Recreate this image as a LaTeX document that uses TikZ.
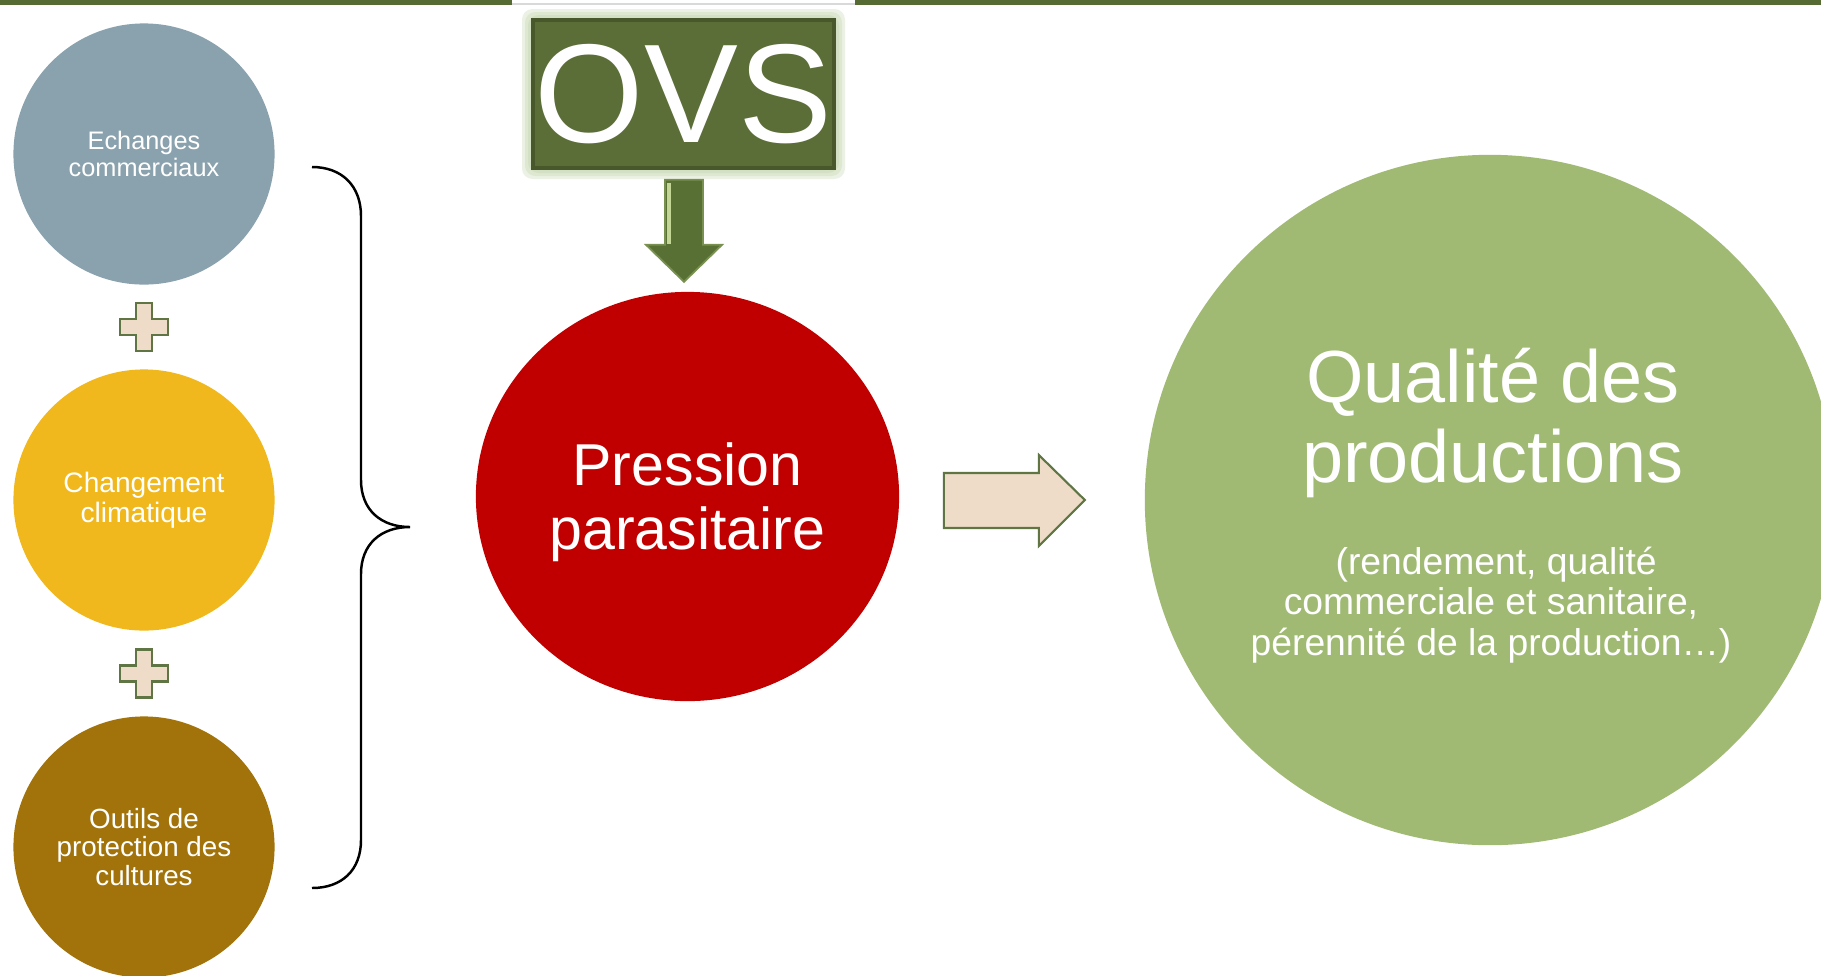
\documentclass[tikz,border=0pt]{standalone}
\usepackage{fontspec}
\setmainfont{Liberation Sans}
\usetikzlibrary{calc, shapes.geometric}

\definecolor{barGreen}{RGB}{86,107,51}
\definecolor{ovsGreen}{RGB}{91,110,56}
\definecolor{ovsDark}{RGB}{72,88,42}
\definecolor{glowGreen}{RGB}{190,208,164}
\definecolor{arrowGreen}{RGB}{88,112,52}
\definecolor{arrowLight}{RGB}{120,145,80}
\definecolor{arrowHi}{RGB}{196,214,150}
\definecolor{echBlue}{RGB}{138,162,174}
\definecolor{climYellow}{RGB}{240,184,28}
\definecolor{outBrown}{RGB}{161,115,10}
\definecolor{ppRed}{RGB}{192,0,0}
\definecolor{qualGreen}{RGB}{160,186,116}
\definecolor{plusFill}{RGB}{239,220,200}
\definecolor{plusLine}{RGB}{95,117,68}

\tikzset{
  bubble/.style={circle, inner sep=0pt, minimum size=2.61cm, text=white, align=center},
  plusbox/.style={fill=plusFill, draw=plusLine, line width=0.6pt},
  downarrow/.style={fill=arrowGreen, draw=arrowLight, line width=0.5pt},
  rightarrow/.style={fill=plusFill, draw=plusLine, line width=0.6pt},
}

\begin{document}
\begin{tikzpicture}[x=0.01cm, y=-0.01cm]
\useasboundingbox (0,0) rectangle (1821,975);
\clip (0,0) rectangle (1821,975);
					%%
\fill[barGreen] (0,0) rectangle (512,5);
\fill[barGreen] (855,0) rectangle (1821,5);
\draw[black!15, line width=0.4pt] (512,4) -- (855,4);

\node[bubble, fill=echBlue, font=\fontsize{7.2}{7.9}\selectfont] (ech) at (144,154) {Echanges\\commerciaux};
\node[bubble, fill=climYellow, font=\fontsize{8}{8.6}\selectfont] (clim) at (144,500) {Changement\\climatique};
\node[bubble, fill=outBrown, font=\fontsize{7.9}{8.1}\selectfont] (outil) at (144,847) {Outils de\\protection des\\cultures};

\coordinate (p1) at ($(ech)!.5!(clim)$);
\coordinate (p2) at ($(clim)!.5!(outil)$);

\foreach \i in {p1, p2}
\draw[plusbox, shift={(\i)}] (-8,-24) -- (8,-24) -- (8,-8) -- (24,-8) -- (24,8) -- (8,8)
  -- (8,24) -- (-8,24) -- (-8,8) -- (-24,8) -- (-24,-8) -- (-8,-8) -- cycle;

\coordinate (b1) at (312,167);
\coordinate (b2) at (410,527);
\coordinate (b3) at (312,888);
\draw[line width=0.7pt] (b1) .. controls (342,167) and (361,186) .. (361,216) -- (361,480)
  .. controls (361,510) and (381,527) .. (b2)
  .. controls (381,527) and (361,544) .. (361,574) -- (361,840)
  .. controls (361,870) and (342,888) .. (b3);

%\foreach \g in {14, 10} glow
\foreach \g in {11, 8, 5, 2}
\fill[glowGreen, opacity=0.3, rounded corners=3pt] (533-\g,20-\g) rectangle (834+\g,168+\g);

\node[fill=ovsGreen, draw=ovsDark, line width=1pt, minimum width=3.01cm, minimum height=1.48cm,
  inner sep=0pt, text=white, font=\fontsize{40}{40}\selectfont] (ovs) at (683.5,94) {OVS};

\node[ellipse, fill=ppRed, minimum width=4.23cm, minimum height=4.09cm, inner sep=0pt] (pp) at (687.5,496.5) {};
\node[text=white, align=center, font=\fontsize{16.8}{18.2}\selectfont] (ppT) at ($(pp.center)+(0,6)$) {Pression\\parasitaire};

\node[circle, fill=qualGreen, minimum size=6.9cm, inner sep=0pt] (qual) at (1490,500) {};
\node[text=white, align=center, font=\fontsize{21}{22.8}\selectfont] (qualT) at ($(qual.center)+(3,-77)$) {Qualité des\\productions};
\node[text=white, align=center, font=\fontsize{10.6}{11.5}\selectfont] (qualS) at ($(qual.center)+(1,105)$)
  {\ (rendement, qualité\\commerciale et sanitaire,\\pérennité de la production…)};

\coordinate (o1) at ($(ovs.south)+(0.5,10)$);
\draw[downarrow] (o1) ++(-19,0) -- ++(38,0) -- ++(0,65) -- ++(19,0) -- ++(-38,37) -- ++(-38,-37) -- ++(19,0) -- cycle;
\draw[arrowHi, line width=1.2pt] ($(o1)+(-15,3)$) -- ($(o1)+(-15,64)$);

\coordinate (r1) at ($(pp.east)+(44,3.5)$);
\draw[rightarrow] (r1) ++(0,-27) -- ++(95,0) -- ++(0,-18) -- ++(46,45) -- ++(-46,46) -- ++(0,-18) -- ++(-95,0) -- cycle;
				\end{tikzpicture}
\end{document}
